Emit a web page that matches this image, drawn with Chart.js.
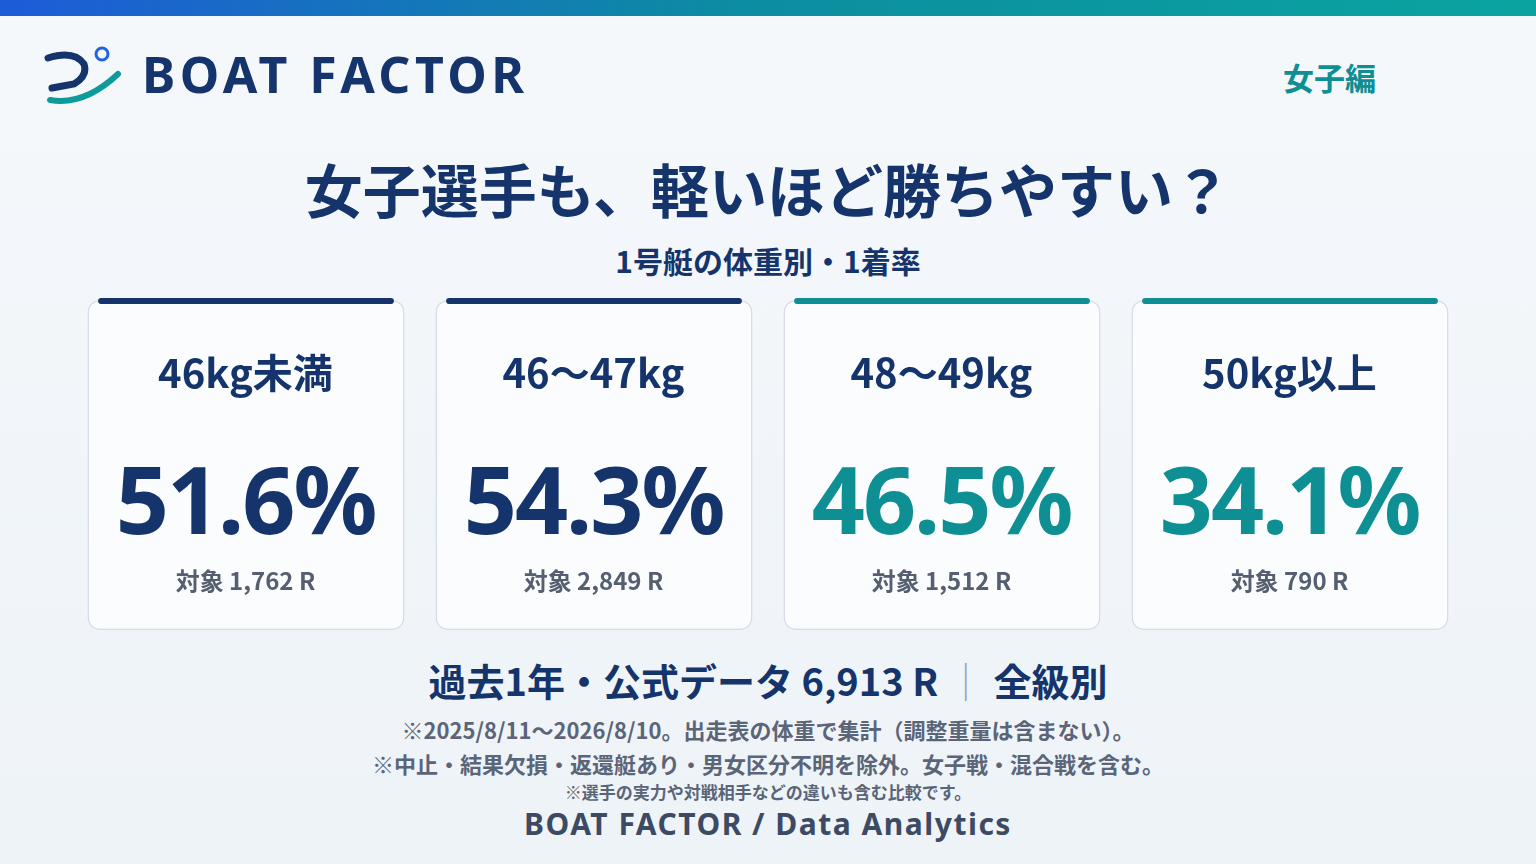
<!DOCTYPE html>
<html><head><meta charset="utf-8">
<script src="https://cdn.jsdelivr.net/npm/chart.js@4/dist/chart.umd.min.js"></script>
<style>
body{margin:0;width:1536px;height:864px;overflow:hidden;background:linear-gradient(180deg,#f5f8fb,#eef3f8);font-family:"Noto Sans CJK JP","Noto Sans",sans-serif;position:relative;color:#14346b}
.top{position:absolute;left:0;top:0;width:1536px;height:16px;background:linear-gradient(90deg,#1e5bd8,#0c8ea0,#0aa4a0)}
.abs{position:absolute;white-space:nowrap}
.c{text-align:center}
#wrap{position:absolute;left:71.5px;top:296px;width:1392px;height:336px}
</style></head><body>
<div class="top"></div>
<svg class="abs" style="left:44px;top:44px" width="80" height="62" viewBox="0 0 80 62">
<path d="M4 14 Q30 6 40 20 Q44 32 30 40 L8 44" fill="none" stroke="#14346b" stroke-width="7" stroke-linecap="round"/>
<path d="M6 56 Q40 62 74 30" fill="none" stroke="#0e9a9a" stroke-width="6" stroke-linecap="round"/>
<circle cx="58" cy="10" r="6" fill="none" stroke="#1e63e0" stroke-width="3"/>
</svg>
<div class="abs" style="left:142px;top:40px;font:bold 50px 'Noto Sans',sans-serif;letter-spacing:4.5px;color:#14346b">BOAT FACTOR</div>
<div class="abs" style="left:1283px;top:54px;font-weight:bold;font-size:31px;color:#0e8f94">女子編</div>
<div class="abs c" style="left:0;width:1536px;top:146px;font-weight:bold;font-size:58px">女子選手も、軽いほど勝ちやすい？</div>
<div class="abs c" style="left:0;width:1536px;top:238px;font-weight:bold;font-size:30px">1号艇の体重別・1着率</div>
<div id="wrap"><canvas id="c"></canvas></div>
<div id="txt"></div>
<div class="abs c" style="left:0;width:1536px;top:652px;font-weight:bold;font-size:38px">過去1年・公式データ 6,913 R <span style="color:#9aa6b8;font-weight:normal">｜</span> 全級別</div>
<div class="abs c" style="left:0;width:1536px;top:713px;font-weight:bold;font-size:22px;color:#5b6578">※2025/8/11〜2026/8/10。出走表の体重で集計（調整重量は含まない）。</div>
<div class="abs c" style="left:0;width:1536px;top:747px;font-weight:bold;font-size:22px;color:#5b6578">※中止・結果欠損・返還艇あり・男女区分不明を除外。女子戦・混合戦を含む。</div>
<div class="abs c" style="left:0;width:1536px;top:779px;font-weight:bold;font-size:17px;color:#5b6578">※選手の実力や対戦相手などの違いも含む比較です。</div>
<div class="abs c" style="left:0;width:1536px;top:803px;font:bold 30px 'Noto Sans',sans-serif;letter-spacing:1.5px;color:#3d4a63">BOAT FACTOR / Data Analytics</div>
<script>
const categories=["46kg未満","46〜47kg","48〜49kg","50kg以上"];
const winRates=[51.6,54.3,46.5,34.1];
const races=["1,762","2,849","1,512","790"];
const accent=["#14346b","#14346b","#0e8f94","#0e8f94"];
const t=document.getElementById('txt');
categories.forEach((c,i)=>{
  const cx=245.5+i*348;
  t.innerHTML+=`<div class="abs c" style="left:${cx-170}px;width:340px;top:342px;font-weight:bold;font-size:40px;color:#14346b">${c}</div>
  <div class="abs c" style="left:${cx-170}px;width:340px;top:435px;font:bold 93px 'Noto Sans',sans-serif;letter-spacing:-2px;color:${accent[i]}">${winRates[i].toFixed(1)}%</div>
  <div class="abs c" style="left:${cx-170}px;width:340px;top:562px;font-weight:bold;font-size:24px;color:#555f70">対象 ${races[i]} R</div>`;
});
new Chart(document.getElementById('c'),{type:'bar',
data:{labels:categories,datasets:[
{data:categories.map(()=>[0.976,0.994]),backgroundColor:accent,barPercentage:0.85,categoryPercentage:1,borderRadius:3,borderSkipped:false,grouped:false,order:0},
{data:categories.map(()=>[0.006,0.988]),backgroundColor:'#fafcfe',borderColor:'#d6dde8',borderWidth:1.5,barPercentage:0.911,categoryPercentage:1,borderRadius:12,borderSkipped:false,grouped:false,order:1}
]},
options:{responsive:true,maintainAspectRatio:false,animation:false,layout:{padding:0},
plugins:{legend:{display:false},tooltip:{enabled:false}},
scales:{x:{display:false,offset:true},y:{display:false,min:0,max:1}}}});
</script>
</body></html>
